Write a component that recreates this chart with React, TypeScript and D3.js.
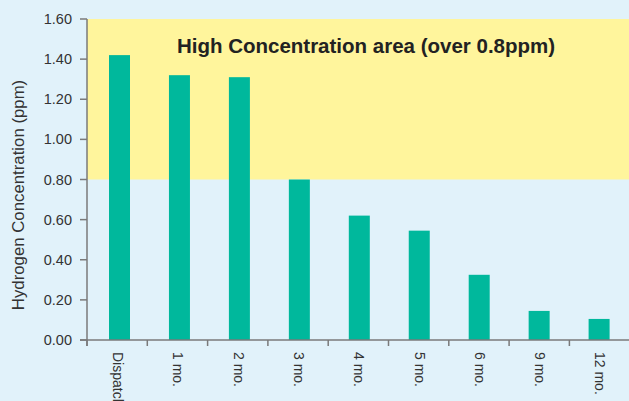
import React from 'react';
import * as d3 from 'd3';

const categories = ['Dispatch', '1 mo.', '2 mo.', '3 mo.', '4 mo.', '5 mo.', '6 mo.', '9 mo.', '12 mo.'];
const values = [1.42, 1.32, 1.31, 0.8, 0.62, 0.545, 0.325, 0.145, 0.105];
const yTicks = [0, 0.2, 0.4, 0.6, 0.8, 1.0, 1.2, 1.4, 1.6];
const highThreshold = 0.8;
const highLabel = 'High Concentration area (over 0.8ppm)';
const yLabel = 'Hydrogen Concentration (ppm)';

const width = 629;
const height = 401;
const margin = { top: 19, right: 0, bottom: 61, left: 87 };

const App = () => {
  const x = d3
    .scaleBand()
    .domain(categories)
    .range([margin.left, margin.left + 60.3 * categories.length]);

  const y = d3
    .scaleLinear()
    .domain([0, 1.6])
    .range([height - margin.bottom, margin.top]);

  const font = 'Helvetica, Arial, "Liberation Sans", sans-serif';
  const axisColor = '#7a7a7a';

  return (
    <svg
      width={width}
      height={height}
      style={{ position: 'absolute', left: 0, top: 0, background: '#e1f2fa', fontFamily: font }}
    >
      {/* high concentration band */}
      <rect
        x={margin.left}
        y={y(1.6)}
        width={width - margin.left}
        height={y(highThreshold) - y(1.6)}
        fill="#fff59c"
      />
      <text x={366} y={53} textAnchor="middle" fontSize={20.5} fontWeight="bold" fill="#222">
        {highLabel}
      </text>

      {/* bars */}
      {categories.map((c, i) => (
        <rect
          key={c}
          x={(x(c) as number) + 22 - i * 0.35}
          y={y(values[i])}
          width={21}
          height={y(0) - y(values[i])}
          fill="#00b89c"
        />
      ))}

      {/* y axis */}
      <line x1={margin.left} x2={margin.left} y1={y(1.6)} y2={y(0) + 6} stroke={axisColor} strokeWidth={1.5} />
      {yTicks.map((t) => (
        <g key={t}>
          <line x1={margin.left - 7} x2={margin.left} y1={y(t)} y2={y(t)} stroke={axisColor} strokeWidth={1.5} />
          <text x={72} y={y(t)} dy="0.35em" textAnchor="end" fontSize={14.5} fill="#333">
            {t.toFixed(2)}
          </text>
        </g>
      ))}
      <text
        transform={`translate(24, 195) rotate(-90)`}
        textAnchor="middle"
        fontSize={16.8}
        fill="#333"
      >
        {yLabel}
      </text>

      {/* x axis */}
      <line x1={margin.left - 7} x2={width} y1={y(0)} y2={y(0)} stroke={axisColor} strokeWidth={1.5} />
      {categories.map((c) => (
        <g key={c}>
          <line x1={x(c) as number} x2={x(c) as number} y1={y(0)} y2={y(0) + 6} stroke={axisColor} strokeWidth={1.5} />
          <text
            transform={`translate(${(x(c) as number) + 31}, ${y(0) + 12}) rotate(90)`}
            dy="0.35em"
            fontSize={14}
            fill="#333"
          >
            {c}
          </text>
        </g>
      ))}
    </svg>
  );
};

export default App;
